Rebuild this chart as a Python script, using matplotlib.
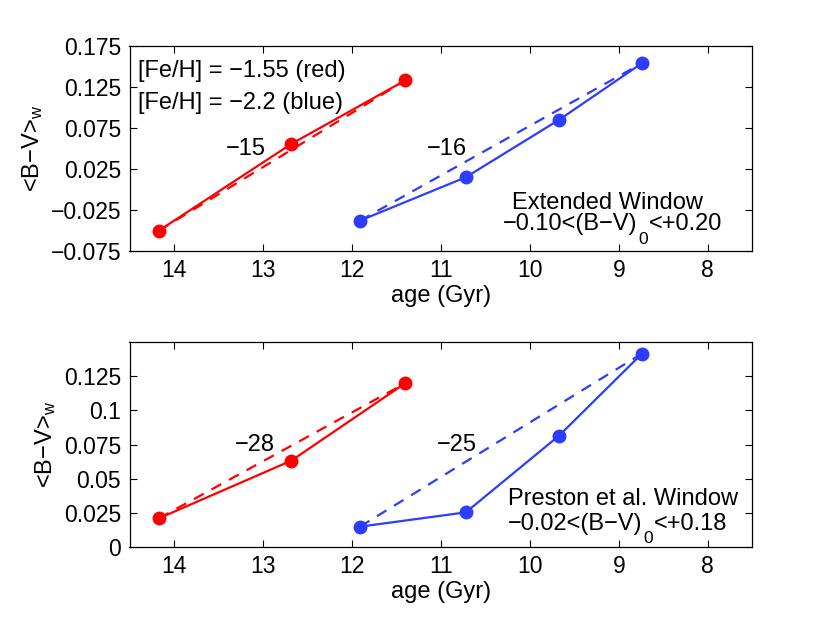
import matplotlib
matplotlib.use("Agg")
import matplotlib.pyplot as plt
import numpy as np

plt.rcParams['font.family'] = ['Liberation Sans', 'DejaVu Sans']
plt.rcParams['mathtext.fontset'] = 'custom'
plt.rcParams['mathtext.rm'] = 'Liberation Sans'
plt.rcParams['mathtext.it'] = 'Liberation Sans'

# ages (Gyr)
age_red = [14.17, 12.68, 11.40]
age_blue = [11.91, 10.72, 9.67, 8.74]

# top panel: Extended Window
ext_red = [-0.0505, 0.0555, 0.133]
ext_blue = [-0.0383, 0.0147, 0.085, 0.154]

# bottom panel: Preston et al. Window
pre_red = [0.0208, 0.0632, 0.120]
pre_blue = [0.0147, 0.0252, 0.0816, 0.1417]

slope_labels_top = ["\u221215", "\u221216"]
slope_labels_bot = ["\u221228", "\u221225"]

xticks = [14, 13, 12, 11, 10, 9, 8]
yticks_top = [-0.075, -0.025, 0.025, 0.075, 0.125, 0.175]
yticklabels_top = ["\u22120.075", "\u22120.025", "0.025", "0.075", "0.125", "0.175"]
yticks_bot = [0, 0.025, 0.05, 0.075, 0.1, 0.125]
yticklabels_bot = ["0", "0.025", "0.05", "0.075", "0.1", "0.125"]

RED = '#ff0000'
BLUE = '#2b3dff'
FS = 17

fig = plt.figure(figsize=(8.3, 6.25), dpi=100)
W, H = 830, 625
def axrect(l, t, r, b):
    return [l / W, 1 - b / H, (r - l) / W, (b - t) / H]

ax1 = fig.add_axes(axrect(129.5, 46, 752.3, 250.7))
ax2 = fig.add_axes(axrect(129.5, 342.3, 752.3, 546.7))

def draw(ax, red, blue):
    for ages, vals, c in ((age_red, red, RED), (age_blue, blue, BLUE)):
        ax.plot(ages, vals, '-', color=c, lw=1.6, marker='o', ms=9, mec=c, mfc=c)
        ax.plot([ages[0], ages[-1]], [vals[0], vals[-1]], '--', color=c, lw=1.6,
                dashes=(5, 4))

draw(ax1, ext_red, ext_blue)
draw(ax2, pre_red, pre_blue)

for ax in (ax1, ax2):
    ax.set_xlim(14.5, 7.5)
    ax.set_xticks(xticks)
    ax.set_xticklabels([str(t) for t in xticks])
    ax.tick_params(direction='in', top=True, right=True, length=5, width=0.8,
                   labelsize=16.5, pad=6)
    for s in ax.spines.values():
        s.set_linewidth(0.9)
    ax.set_xlabel('age (Gyr)', fontsize=FS, labelpad=2)
    ax.set_ylabel('<B\u2212V>$_\\mathrm{w}$', fontsize=FS, labelpad=4)

ax1.set_ylim(-0.075, 0.175)
ax1.set_yticks(yticks_top)
ax1.set_yticklabels(yticklabels_top)
ax2.set_ylim(0, 0.15)
ax2.set_yticks(yticks_bot)
ax2.set_yticklabels(yticklabels_bot)


def window_line(ax, x, y, pre, post):
    t1 = ax.text(x, y, pre, transform=ax.transAxes, fontsize=FS,
                 ha='left', va='center')
    t2 = ax.annotate('0', xy=(1, 0), xycoords=t1, xytext=(0.5, 2.5),
                     textcoords='offset points', fontsize=12.5,
                     ha='left', va='top')
    ax.annotate(post, xy=(1, 0), xycoords=(t2, t1), xytext=(0.5, 0),
                textcoords='offset points', fontsize=FS,
                ha='left', va='bottom')

# annotations top
ax1.text(0.0137, 0.878, '[Fe/H] = \u22121.55 (red)', transform=ax1.transAxes,
         fontsize=FS, ha='left', va='center')
ax1.text(0.0137, 0.722, '[Fe/H] = \u22122.2 (blue)', transform=ax1.transAxes,
         fontsize=FS, ha='left', va='center')
ax1.text(13.19, 0.049, slope_labels_top[0], fontsize=FS, ha='center', va='center')
ax1.text(10.93, 0.049, slope_labels_top[1], fontsize=FS, ha='center', va='center')
ax1.text(0.614, 0.234, 'Extended Window', transform=ax1.transAxes,
         fontsize=FS, ha='left', va='center')
window_line(ax1, 0.600, 0.128, '\u22120.10<(B\u2212V)', '<+0.20')

# annotations bottom
ax2.text(13.09, 0.0746, slope_labels_bot[0], fontsize=FS, ha='center', va='center')
ax2.text(10.82, 0.0746, slope_labels_bot[1], fontsize=FS, ha='center', va='center')
ax2.text(0.608, 0.233, 'Preston et al. Window', transform=ax2.transAxes,
         fontsize=FS, ha='left', va='center')
window_line(ax2, 0.608, 0.112, '\u22120.02<(B\u2212V)', '<+0.18')

fig.savefig('out.png', dpi=100)
